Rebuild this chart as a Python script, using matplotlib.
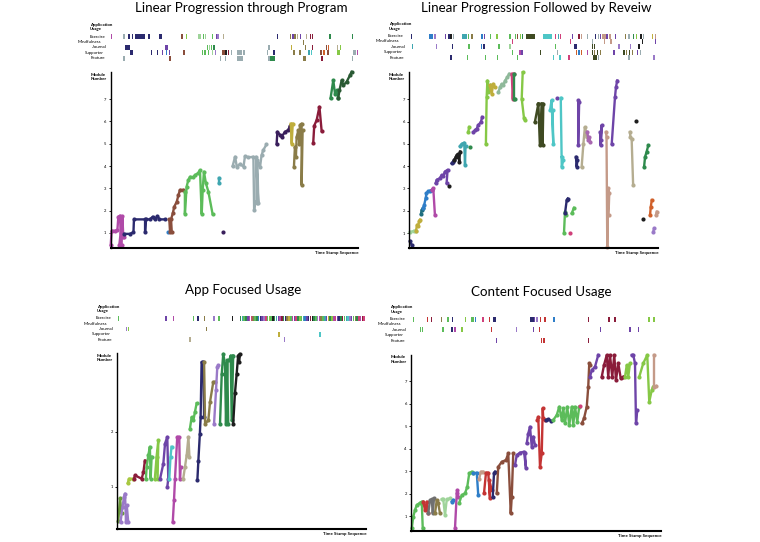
import matplotlib.pyplot as plt

plt.rcParams['font.family'] = ['Lato', 'DejaVu Sans']

# colour codes used by all four panels
pal = {
    'n': '#2b2a6e', 'P': '#3a1f5c', 'p': '#6e44a8', 'v': '#9a7ac8', 'V': '#a868b0',
    'm': '#b04aa8', 'k': '#d0407a', 'r': '#8a1c3a', 'R': '#c43434', 'b': '#8a4e3c',
    'o': '#8a7c48', 'y': '#bfae3c', 'L': '#a8c840', 'g': '#5cbc5a', 'G': '#2e8a4c',
    'D': '#2a5a34', 'H': '#6a9a3a', 'l': '#86c846', 'w': '#9fd49a', 'S': '#8fb99a',
    't': '#3fa6b0', 'q': '#1f6f7f', 'c': '#4ec6c6', 'B': '#2f7ec8', 's': '#9aacb0',
    'e': '#b5ad90', 'T': '#c49a88', 'A': '#707070', 'K': '#1e1e1e', 'd': '#3f4a22',
    'O': '#d0602a',
}

rows = ['Exercise', 'Mindfulness', 'Journal', 'Supporter', 'Feature']

titles = ['Linear Progression through Program', 'Linear Progression Followed by Reveiw',
          'App Focused Usage', 'Content Focused Usage']

# ---- panel 1 : module sessions (colour, time stamp, module number)
p1_lines = [
    ('m', [0, 0.4, 1.75, 2.7, 3.1, 3.8, 4.0, 3.5, 4.4, 4.7, 5.1, 5.4],
          [0.46, 1.10, 1.10, 1.13, 1.73, 1.78, 0.99, 0.46, 0.46, 1.76, 0.84, 0.84]),
    ('n', [5.5, 7.8, 9.2, 9.4, 13.9, 13.9, 14.2, 15.9, 17.0, 17.9, 18.9, 19.7, 22.0],
          [0.96, 0.96, 1.03, 1.61, 1.61, 1.03, 1.61, 1.61, 1.73, 1.61, 1.76, 1.61, 1.61]),
    ('B', [23.3], [1.03]),
    ('b', [23.7, 24.0, 24.7, 24.4, 25.1, 25.7, 26.7, 27.4, 28.0, 29.4],
          [1.61, 1.03, 1.03, 1.61, 1.88, 2.18, 2.4, 2.7, 2.93, 2.93]),
    ('g', [30.0, 30.0, 30.7, 31.4, 32.1, 33.4, 34.1, 35.4, 36.1, 36.8, 37.2, 37.7, 38.5, 39.5, 41.2],
          [2.85, 1.85, 3.08, 3.38, 3.52, 3.5, 3.6, 3.68, 3.82, 1.85, 2.93, 3.75, 3.23, 2.85, 1.85]),
    ('t', [43.9, 43.9], [3.45, 3.23]),
    ('P', [45.5], [1.03]),
    ('s', [49.3, 50.3, 51.0, 52.3, 53.7, 54.3, 55.7, 57.7, 58.0, 58.4, 59.0, 58.8, 59.7, 59.3, 60.4, 61.0, 61.7, 63.0],
          [4.0, 4.42, 3.97, 4.1, 3.97, 4.45, 4.39, 4.42, 2.03, 2.4, 2.33, 4.42, 2.33, 4.27, 3.97, 4.49, 4.72, 4.97]),
    ('P', [67.1, 67.4, 68.5, 69.1, 70.5, 71.8, 72.5], [5.0, 5.54, 5.39, 5.31, 5.54, 5.61, 5.81]),
    ('y', [72.8, 73.2, 73.6], [5.9, 5.0, 5.9]),
    ('o', [74.1, 74.5, 74.9, 75.2, 75.9, 76.3, 76.5, 77.2, 77.2, 77.6],
          [3.97, 4.87, 4.42, 5.31, 5.61, 5.0, 5.84, 5.91, 3.15, 5.61]),
    ('r', [81.9, 82.3, 83.3, 84.4, 85.3], [5.05, 5.81, 6.07, 6.66, 5.57]),
    ('G', [88.9, 90.0, 90.7, 91.4, 92.0], [7.04, 7.85, 7.25, 7.4, 7.04]),
    ('D', [92.0, 92.5, 93.4, 94.1, 95.4, 96.8, 97.4], [7.04, 7.4, 7.85, 7.63, 7.78, 8.08, 8.23]),
]

# app usage events (row, time stamp, duration, colour)
p1_usage = [
    (0, 0, 0.5, 'm'), (0, 5.1, 0.4, 's'), (0, 7.1, 0.5, 'n'), (0, 8.5, 0.5, 'n'), (0, 9.8, 4.1, 'n'),
    (0, 15, 0.9, 'n'), (0, 19.7, 0.9, 'n'), (0, 28.3, 0.8, 'b'), (0, 30.5, 0.4, 'l'), (0, 35.4, 0.4, 'w'),
    (0, 36.1, 0.4, 'w'), (0, 37.2, 0.4, 'g'), (0, 38.1, 0.4, 'w'), (0, 40.8, 0.5, 'g'), (0, 42.6, 0.5, 'p'),
    (0, 43.1, 0.4, 'v'), (0, 45.3, 0.4, 'e'), (0, 67.1, 0.4, 'n'), (0, 72.5, 0.5, 'o'), (0, 73.4, 0.4, 'p'),
    (0, 74.3, 0.5, 'o'), (0, 75.2, 0.4, 'e'), (0, 76.5, 0.4, 'p'), (0, 79, 0.4, 'e'), (0, 80.6, 0.4, 'r'),
    (0, 81.3, 0.4, 'r'), (0, 88.4, 0.6, 'G'), (0, 97.4, 0.6, 'G'),
    (1, 77.6, 0.4, 'o'),
    (2, 5.8, 2.0, 'n'), (2, 22, 1.3, 'p'), (2, 38.8, 0.5, 'g'), (2, 39.6, 0.4, 'w'), (2, 40.5, 0.5, 'g'),
    (2, 41.5, 0.4, 'G'), (2, 63.7, 0.5, 's'), (2, 72.8, 0.4, 'y'), (2, 78.6, 0.4, 'o'), (2, 81.3, 0.5, 'r'),
    (2, 87.1, 0.5, 'b'), (2, 87.9, 0.4, 'O'), (2, 91.4, 0.4, 'e'), (2, 92.7, 0.5, 'l'),
    (3, 7.8, 1.4, 'n'), (3, 16.2, 0.5, 'n'), (3, 18.6, 0.5, 'n'), (3, 20.6, 0.7, 'p'), (3, 22.2, 0.6, 'B'),
    (3, 23.5, 0.5, 'p'), (3, 29.4, 0.4, 'b'), (3, 36.8, 0.4, 'g'), (3, 37.8, 0.4, 'g'), (3, 39.3, 0.6, 'g'),
    (3, 40.8, 0.5, 'w'), (3, 42.1, 0.6, 'v'), (3, 44.9, 1.2, 'b'), (3, 46.4, 0.6, 'K'), (3, 47.4, 0.5, 'r'),
    (3, 48.5, 0.6, 's'), (3, 50.9, 2.0, 's'), (3, 53.6, 0.4, 's'), (3, 63.1, 0.6, 's'), (3, 65.6, 0.7, 'n'),
    (3, 73.9, 0.4, 'o'), (3, 76.3, 0.4, 'o'), (3, 79.9, 0.8, 't'), (3, 81.0, 0.5, 'c'), (3, 84.7, 0.6, 'b'),
    (3, 86.0, 0.6, 'O'), (3, 87.5, 0.6, 'b'), (3, 91.4, 1.3, 'l'), (3, 98, 1.3, 's'), (3, 99.6, 0.4, 'm'),
    (4, 5.1, 0.4, 's'), (4, 23.7, 0.4, 'b'), (4, 44.2, 0.5, 's'), (4, 46.2, 0.6, 's'), (4, 50.9, 2.7, 's'),
    (4, 63.7, 0.4, 's'), (4, 64.4, 2.0, 'G'), (4, 77.9, 1.2, 'o'), (4, 85, 0.7, 'r'), (4, 97.4, 0.5, 's'),
]

# ---- panel 2
p2_lines = [
    ('n', [0.3, 0.9], [0.63, 0.48]),
    ('w', [0.3, 2.0, 2.7], [1.04, 1.10, 1.10]),
    ('y', [2.7, 3.1, 3.6, 3.9, 4.3], [1.10, 1.37, 1.30, 1.52, 1.60]),
    ('q', [4.7, 4.96, 5.6], [1.85, 2.04, 2.12]),
    ('B', [5.6, 6.0, 6.6, 6.9, 7.6, 8.3, 9.0], [2.12, 2.27, 2.57, 2.79, 2.87, 2.9, 2.94]),
    ('m', [9.0, 9.65, 10.3], [2.94, 3.0, 1.81]),
    ('p', [10.6, 11.0, 12.3, 13.0, 13.7, 14.3, 15.4, 15.0], [3.24, 3.39, 3.46, 3.61, 3.54, 3.76, 3.84, 3.24]),
    ('K', [16.1], [3.12]),
    ('n', [17.0, 17.7, 18.1], [4.13, 4.21, 4.28]),
    ('K', [18.1, 18.7, 19.1, 19.7, 20.1, 20.4], [4.28, 4.43, 4.51, 4.55, 4.21, 4.66]),
    ('t', [20.4, 21.0, 22.1, 22.4, 22.6], [4.9, 5.0, 5.06, 4.06, 4.9]),
    ('l', [23.7, 24.1], [5.54, 5.76]),
    ('G', [24.4], [4.85]),
    ('p', [25.7, 26.4, 27.1, 27.7, 28.8, 29.3], [5.54, 5.61, 5.69, 5.84, 5.99, 6.21]),
    ('l', [30.8, 31.1, 31.4, 31.8, 32.4], [5.01, 7.1, 7.85, 7.33, 7.63]),
    ('y', [32.4, 33.1, 33.8, 34.4], [7.63, 7.25, 7.7, 7.55]),
    ('S', [35.8, 36.5, 37.1, 37.8, 38.5, 39.4, 40.2], [7.33, 7.55, 7.7, 7.63, 7.85, 8.0, 8.15]),
    ('k', [41.2, 41.6, 42.1], [8.15, 7.03, 8.15]),
    ('G', [42.1, 42.1, 42.6], [8.15, 7.03, 7.03]),
    ('l', [45.6, 45.2, 46.1, 46.5], [8.22, 7.03, 6.18, 6.06]),
    ('d', [50.5, 51.9, 52.5, 53.2, 53.6, 53.9, 51.9], [5.99, 6.81, 4.94, 6.81, 4.94, 6.81, 6.81]),
    ('c', [56.6, 57.2, 57.9, 57.6], [6.51, 6.96, 5.0, 6.51]),
    ('p', [59.2], [7.07]),
    ('c', [60.9, 61.3, 61.9, 61.3], [7.07, 3.97, 4.27, 4.42]),
    ('g', [62.2, 62.6, 63.0], [0.99, 1.96, 1.81]),
    ('n', [62.6, 63.3, 63.7], [1.88, 2.48, 2.55]),
    ('g', [65.3, 66.2], [1.88, 2.13]),
    ('k', [64.6], [1.01]),
    ('n', [67.0, 67.3, 67.6], [4.42, 3.97, 4.27]),
    ('p', [67.9, 67.9, 68.3], [6.96, 4.94, 6.88]),
    ('e', [69.3, 70.0, 70.6, 71.1, 71.3], [3.97, 5.01, 5.76, 5.54, 5.31]),
    ('V', [71.6, 72.0, 72.4, 72.7], [5.54, 5.16, 5.31, 5.09]),
    ('p', [76.7, 76.9, 77.3, 77.1], [5.54, 4.94, 5.84, 5.16]),
    ('T', [79.1, 79.3, 79.6, 80.0, 80.4, 80.1], [5.54, 5.31, 0.39, 3.0, 2.78, 1.81]),
    ('p', [81.4, 82.7, 83.1, 83.6], [5.01, 7.1, 7.55, 7.85]),
    ('e', [88.7, 88.9, 89.4, 90.0], [5.54, 5.31, 5.24, 3.15]),
    ('K', [91.2], [6.03]),
    ('K', [93.8], [1.61]),
    ('G', [94.4, 94.8, 95.4, 96.1], [3.97, 4.42, 4.64, 4.94]),
    ('O', [96.8, 97.1, 97.5], [1.81, 2.18, 2.48]),
    ('v', [98.1, 98.4], [1.06, 1.21]),
    ('T', [99.2, 99.5], [1.81, 1.96]),
]

p2_usage = [
    (0, 0.5, 0.4, 'n'), (0, 8.0, 0.5, 'B'), (0, 8.9, 0.5, 'B'), (0, 9.8, 0.9, 'v'), (0, 14.3, 0.4, 'p'),
    (0, 15.7, 0.5, 'n'), (0, 16.5, 0.6, 'K'), (0, 17.5, 0.6, 's'), (0, 21, 2.2, 't'), (0, 23.5, 0.4, 'g'),
    (0, 25, 0.5, 'o'), (0, 29, 0.4, 'B'), (0, 30, 0.4, 'p'), (0, 32.4, 0.4, 'g'), (0, 34.9, 0.6, 'l'),
    (0, 40.2, 0.4, 'g'), (0, 42.5, 0.5, 'g'), (0, 43.3, 0.6, 'b'), (0, 44.4, 0.5, 'l'), (0, 45.3, 0.4, 'G'),
    (0, 46.9, 3.6, 'd'), (0, 53.9, 3.3, 'c'), (0, 58.6, 0.5, 'k'), (0, 59.6, 0.5, 't'), (0, 60.4, 0.4, 'k'),
    (0, 65.3, 0.4, 'p'), (0, 68, 0.4, 'r'), (0, 69, 0.4, 'T'), (0, 71.3, 0.4, 's'), (0, 74.7, 0.4, 'n'),
    (0, 75.7, 0.4, 's'), (0, 76.7, 0.5, 'p'), (0, 77.3, 1.6, 'T'), (0, 79.2, 0.6, 'p'), (0, 80.2, 1.0, 'T'),
    (0, 82.7, 0.5, 'p'), (0, 86.7, 0.6, 'o'), (0, 88, 0.4, 's'), (0, 90, 0.5, 'G'), (0, 91, 0.5, 'l'),
    (0, 92.8, 0.6, 'K'), (0, 93.8, 0.4, 's'), (0, 97.5, 0.5, 'y'), (0, 98.8, 0.4, 'T'),
    (1, 41.2, 0.4, 'k'), (1, 64.6, 0.4, 'k'), (1, 73.3, 0.4, 's'), (1, 78.3, 0.4, 'T'), (1, 80.8, 0.4, 'T'),
    (1, 93.4, 0.4, 'K'), (1, 98.8, 0.4, 'p'),
    (2, 0.9, 0.4, 't'), (2, 10.7, 0.4, 'v'), (2, 17, 0.4, 'n'), (2, 23.7, 0.4, 'g'), (2, 28.8, 0.4, 'B'),
    (2, 29.8, 0.4, 'n'), (2, 35.8, 0.4, 'g'), (2, 40.2, 0.4, 'w'), (2, 58.6, 0.4, 'g'), (2, 66.2, 1.1, 'n'),
    (2, 73.3, 0.4, 'd'), (2, 74.3, 0.5, 'd'), (2, 84, 0.4, 'v'), (2, 88.7, 0.4, 'v'), (2, 92.1, 0.5, 'K'),
    (3, 41.2, 0.4, 'g'), (3, 44.2, 0.5, 'm'), (3, 45.0, 0.5, 'p'), (3, 52.5, 0.4, 'd'), (3, 59.2, 0.4, 's'),
    (3, 67, 0.5, 'O'), (3, 68, 0.5, 'B'), (3, 69, 0.4, 'O'), (3, 71.3, 0.5, 'm'), (3, 73.3, 0.6, 'd'),
    (3, 74.3, 0.5, 'o'), (3, 75.3, 0.6, 'd'), (3, 76.5, 0.4, 'o'), (3, 82, 0.5, 'p'), (3, 86, 0.5, 'd'),
    (3, 87, 0.4, 'o'), (3, 88.2, 0.5, 'd'), (3, 89.4, 0.4, 'o'), (3, 91.4, 0.5, 'p'), (3, 92.7, 0.5, 's'),
    (4, 16.4, 0.6, 'n'), (4, 23, 0.4, 'g'), (4, 30.4, 0.4, 'g'), (4, 35.1, 0.7, 'g'), (4, 43.2, 0.4, 'g'),
    (4, 57.6, 0.4, 'c'), (4, 60.3, 0.4, 'c'), (4, 63.9, 0.9, 'k'), (4, 73.7, 1.8, 'd'), (4, 75.7, 0.4, 's'),
    (4, 88, 0.4, 's'), (4, 98.1, 0.4, 'v'),
]

# ---- panel 3
p3_lines = [
    ('H', [0.4, 1.1, 1.7], [0.39, 0.79, 0.52]),
    ('v', [1.3, 2.1, 2.7, 3.1, 3.5, 3.8, 4.4], [0.36, 0.64, 0.82, 0.88, 0.36, 0.67, 0.36]),
    ('L', [4.2, 4.7, 6.4], [1.07, 1.15, 1.15]),
    ('r', [6.7, 7.1, 9.8, 10.5, 11.1], [1.15, 1.21, 1.15, 1.27, 1.48]),
    ('g', [11.5, 11.8, 12.5, 13.1, 13.4, 13.8], [1.15, 1.36, 1.58, 1.73, 1.15, 1.55]),
    ('l', [15.1, 15.8, 16.5, 16.2], [1.15, 1.55, 1.85, 1.15]),
    ('p', [17.2, 18.5, 19.2, 20.1, 20.5, 20.1], [1.15, 1.42, 1.79, 1.91, 1.15, 1.0]),
    ('c', [20.9, 21.4, 21.8], [1.15, 1.55, 1.73]),
    ('m', [22.3, 22.8, 23.2, 24.1, 24.9, 25.2, 25.5], [0.36, 0.76, 1.15, 1.91, 1.91, 1.15, 1.36]),
    ('e', [26.5, 27.2, 27.9, 28.6, 29.0], [1.15, 1.36, 1.58, 1.91, 1.55]),
    ('g', [29.2, 29.9, 30.6, 31.2, 31.9], [2.06, 2.27, 2.21, 2.36, 2.52]),
    ('n', [32.2, 32.6, 33.2, 33.5, 33.9, 34.6, 34.9], [1.13, 1.48, 1.97, 2.27, 3.27, 3.27, 2.27]),
    ('o', [34.9, 35.3, 36.6, 37.3, 38.6, 39.3], [3.27, 2.15, 2.21, 2.55, 2.91, 2.91]),
    ('v', [38.9, 39.7, 40.2, 40.6], [2.15, 2.76, 3.18, 3.21]),
    ('G', [41.3, 42.0, 42.6, 43.3, 43.7, 44.2, 44.6], [2.15, 3.06, 3.42, 3.24, 2.15, 3.3, 2.15]),
    ('G', [45.0, 45.6, 46.0, 46.6], [3.3, 3.39, 2.21, 3.39]),
    ('K', [46.6, 47.3, 48.0, 48.6, 49.3, 49.0], [2.15, 2.7, 3.06, 3.39, 3.42, 3.27]),
]

p3_usage = [
    (0, 0.1, 0.4, 'g'), (0, 19.2, 0.6, 'p'), (0, 22.3, 0.4, 'm'), (0, 30.3, 0.4, 'g'), (0, 32.2, 0.4, 'n'),
    (0, 34.9, 0.4, 'o'), (0, 38.6, 0.5, 'v'), (0, 40.6, 0.4, 'g'), (0, 46.0, 0.6, 'K'),
    (2, 3.5, 0.4, 'v'), (2, 4.2, 0.4, 'l'), (2, 35.7, 0.4, 'o'),
    (3, 64.7, 0.4, 'y'), (3, 81.2, 0.4, 'c'),
    (4, 29, 0.5, 'e'), (4, 67, 0.4, 'v'),
]
# run of consecutive exercise events at the end of panel 3
p3_band = 'GtgGpmkogGBnpvkglgKGtpmrGnoygmpkGlgtBpnrKGgvmogtpyGlmkpnGrgtcvpgoGkmrk'
p3_band_start = 49.3
p3_band_step = 0.72

# ---- panel 4
p4_lines = [
    ('g', [0.3, 0.9, 1.6, 2.3, 3.6, 4.3, 4.7], [0.45, 0.97, 1.27, 1.49, 1.59, 1.64, 0.45]),
    ('R', [4.9, 5.6, 6.3, 6.9], [1.64, 1.27, 1.64, 1.12]),
    ('A', [6.9, 7.6, 8.3, 8.7, 9.2], [1.12, 1.71, 1.74, 1.12, 1.79]),
    ('o', [9.6, 10.3, 10.9, 11.6], [1.12, 1.71, 1.56, 1.12]),
    ('w', [12.3, 12.9, 13.6, 14.3, 15.6], [1.74, 1.74, 1.04, 1.74, 1.79]),
    ('B', [16.3, 16.9], [1.64, 1.71]),
    ('m', [17.6, 18.3, 18.5, 18.9], [0.45, 2.01, 2.16, 1.86]),
    ('g', [19.3, 20.3, 21.6, 22.5, 23.3, 24.3, 24.9], [1.59, 1.93, 2.01, 2.3, 2.9, 2.97, 2.9]),
    ('B', [24.9, 26.3, 26.9], [2.9, 2.93, 1.93]),
    ('T', [27.3, 27.9, 28.7], [2.67, 2.97, 2.97]),
    ('R', [29.2, 30.0, 30.9, 31.6, 31.3, 32.3], [2.01, 2.93, 2.93, 1.79, 2.6, 2.16]),
    ('n', [32.7, 33.2, 33.6], [1.86, 2.9, 2.97]),
    ('b', [34.3, 34.9, 36.3, 38.0, 38.9, 39.9, 40.3, 40.9], [2.01, 3.19, 3.41, 3.49, 3.79, 1.12, 1.86, 3.79]),
    ('p', [41.6, 42.3, 43.6, 45.2, 46.0, 45.6], [3.27, 3.71, 3.82, 3.86, 3.12, 3.82]),
    ('p', [46.3, 46.9, 47.6, 48.3, 48.9, 49.6], [4.23, 4.67, 4.97, 4.08, 4.53, 4.16]),
    ('R', [50.5, 50.9, 51.6, 52.3, 52.7, 52.9, 53.6], [5.27, 5.41, 3.19, 3.79, 5.79, 5.34, 5.27]),
    ('n', [54.0, 54.9, 55.9], [5.27, 5.3, 5.24]),
    ('g', [56.9, 58.3, 59.3, 60.3, 60.9, 61.6, 62.5, 63.3, 64.3, 64.9, 65.6, 66.5, 67.3],
          [5.27, 5.49, 5.86, 5.27, 5.79, 5.12, 5.86, 5.04, 5.86, 5.04, 5.86, 5.19, 5.86]),
    ('k', [67.6], [5.89]),
    ('b', [68.3, 69.2, 70.3, 70.9, 71.3, 71.6], [5.12, 5.34, 5.86, 6.75, 7.79, 7.73]),
    ('p', [71.6, 72.3, 73.6, 74.9], [7.19, 7.49, 7.64, 8.16]),
    ('r', [76.3, 77.2, 78.3, 78.9, 79.6, 80.5, 81.3, 82.0, 82.9, 83.9, 84.9],
          [7.19, 7.71, 8.16, 7.19, 8.16, 7.19, 8.16, 7.04, 7.79, 7.12, 7.19]),
    ('l', [85.6, 86.3, 86.9, 87.6], [7.19, 7.71, 7.19, 7.79]),
    ('p', [88.3, 88.9, 89.6, 90.0, 90.5], [8.16, 8.16, 7.79, 5.12, 5.71]),
    ('l', [91.3, 92.9, 94.5, 95.3, 96.3, 96.9], [7.19, 7.79, 8.16, 6.08, 6.6, 6.75]),
    ('T', [97.2, 97.2, 98.0], [8.16, 6.75, 6.78]),
]

p4_usage = [
    (0, 0.7, 0.4, 'g'), (0, 6.3, 0.4, 'R'), (0, 7.9, 0.4, 'r'), (0, 12, 0.4, 'o'), (0, 14.5, 0.4, 'g'),
    (0, 16.3, 0.4, 'n'), (0, 21.6, 0.4, 'l'), (0, 24, 1.4, 'g'), (0, 25.6, 0.6, 'B'), (0, 28.5, 0.4, 'k'),
    (0, 31.1, 0.4, 'R'), (0, 32.9, 1.0, 'n'), (0, 47.6, 1.4, 'n'), (0, 49.2, 0.5, 'p'), (0, 50.1, 0.4, 'v'),
    (0, 51.6, 0.4, 'R'), (0, 53.3, 0.4, 'R'), (0, 56.9, 0.5, 'B'), (0, 70.7, 0.4, 'r'), (0, 78.9, 0.6, 'r'),
    (0, 81.3, 0.4, 'r'), (0, 94.9, 0.4, 'l'), (0, 96.9, 0.4, 'l'),
    (2, 3.6, 0.4, 'g'), (2, 4.4, 0.4, 'g'), (2, 12.5, 0.4, 'g'), (2, 15.9, 0.4, 'n'), (2, 16.4, 0.4, 'n'),
    (2, 17.3, 0.5, 'm'), (2, 20, 0.9, 'l'), (2, 31.9, 0.4, 'R'), (2, 41.9, 0.4, 'v'), (2, 48.7, 0.4, 'p'),
    (2, 51.2, 0.4, 'R'), (2, 75.6, 0.4, 'p'), (2, 87.3, 0.4, 'p'), (2, 90.7, 0.4, 'p'),
    (4, 33.9, 0.4, 'p'), (4, 51.9, 0.4, 'R'), (4, 52.9, 0.4, 'R'), (4, 70.7, 0.4, 'r'),
]

for i, c in enumerate(p3_band):
    p3_usage.append((0, p3_band_start + i * p3_band_step, p3_band_step * 0.85, c))

W, H = 760, 542
fig = plt.figure(figsize=(W / 100, H / 100), dpi=100)


def frac(x0, y0, x1, y1):
    return [x0 / W, 1 - y1 / H, (x1 - x0) / W, (y1 - y0) / H]


# layout in pixels: main plot (left, top, right, bottom), strip (top, bottom), title centre
layout = [
    ((110.7, 72, 358, 247.7), (34.0, 61.0), (241, 8), (0.34, 8.22), [1, 2, 3, 4, 5, 6, 7]),
    ((409.3, 72.3, 658, 247.7), (33.3, 60.4), (536, 8), (0.34, 8.22), [1, 2, 3, 4, 5, 6, 7]),
    ((117.3, 353.3, 366, 529.3), (315.6, 342.4), (243, 290), (0.23, 3.43), [1, 2]),
    ((411, 355, 661, 530.7), (316.3, 343.4), (541, 292), (0.35, 8.16), [1, 2, 3, 4, 5, 6, 7]),
]
all_lines = [p1_lines, p2_lines, p3_lines, p4_lines]
all_usage = [p1_usage, p2_usage, p3_usage, p4_usage]
row_dx = [-5.5, -10, -5, -7, -5.5]

for k in range(4):
    (x0, y0, x1, y1), (s0, s1), (tx, ty), ylim, yt = layout[k]

    fig.text(tx / W, 1 - ty / H, titles[k], ha='center', va='center', fontsize=9.6)

    # usage strip
    sx = fig.add_axes(frac(x0, s0, x1, s1))
    for row, x, w, c in all_usage[k]:
        sx.broken_barh([(x, max(w, 0.55))], (row - 0.46, 0.92), facecolors=pal[c], edgecolor='none')
    sx.set_xlim(0, 100)
    sx.set_ylim(4.5, -0.5)
    sx.axis('off')
    pitch = (s1 - s0) / 5
    for r, name in enumerate(rows):
        fig.text((x0 + row_dx[r]) / W, 1 - (s0 + pitch * (r + 0.5)) / H, name,
                 ha='right', va='center', fontsize=3.2)
    fig.text((x0 - 20.5) / W, 1 - (s0 - 11) / H, 'Application\nUsage', ha='left', va='top',
             fontsize=3.2, fontweight='bold', linespacing=1.1)

    # module progression
    ax = fig.add_axes(frac(x0, y0, x1, y1))
    for c, xs, ys in all_lines[k]:
        ax.plot(xs, ys, '-o', color=pal[c], lw=1.7, ms=3.0, mew=0, clip_on=False)
    ax.set_xlim(0, 100)
    ax.set_ylim(*ylim)
    ax.set_xticks([])
    ax.set_yticks(yt)
    ax.tick_params(axis='y', labelsize=3, length=1.5, width=0.6, pad=1.5)
    for s in ['top', 'right']:
        ax.spines[s].set_visible(False)
    ax.spines['left'].set_linewidth(1.0)
    ax.spines['bottom'].set_linewidth(1.5)
    fig.text((x0 - 20.5) / W, 1 - (y0 + 0.5) / H, 'Module\nNumber', ha='left', va='top',
             fontsize=3.2, fontweight='bold', linespacing=1.1)
    fig.text((x1 + 1) / W, 1 - (y1 + 5) / H, 'Time Stamp Sequence', ha='right', va='center',
             fontsize=3.2, fontweight='bold')

fig.savefig('out.png', dpi=100)
